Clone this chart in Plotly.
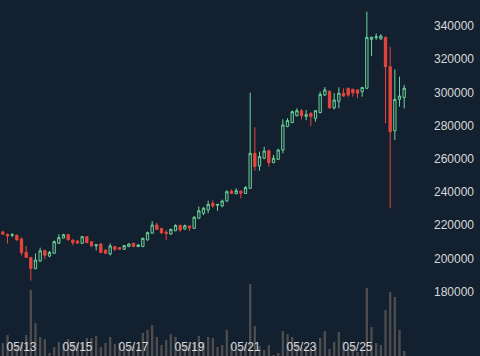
import pandas as pd
import plotly.graph_objects as go

# 4-hour candles, 2019-05-12 08:00 .. 2019-05-26 16:00
times = pd.date_range("2019-05-12 08:00", periods=87, freq="4h")

opens = [216000, 214500, 213900, 214000, 211700, 203600, 200500, 193800, 198400, 204700,
         201400, 203100, 209100, 212300, 214300, 211000, 210500, 209100, 213100, 210000,
         207600, 208700, 205000, 202600, 207100, 206500, 205500, 207100, 209100, 207100,
         207100, 211100, 215200, 220100, 218000, 215800, 214700, 216700, 219900, 217700,
         219500, 218100, 224200, 227200, 229200, 233200, 232000, 231600, 234500, 240600,
         239000, 240500, 239100, 242200, 263300, 255700, 260300, 264900, 257700, 259700,
         265300, 279500, 281800, 286000, 289000, 285600, 287400, 284400, 287800, 298500,
         300700, 290700, 294700, 299500, 302500, 301900, 301500, 300400, 302500, 332000,
         333000, 332200, 333200, 315500, 276900, 295800, 297000]
highs = [216300, 215000, 215200, 214300, 212700, 207500, 201000, 203000, 206500, 205300,
         204500, 210800, 214600, 214800, 214800, 211500, 211000, 213600, 213400, 210400,
         208400, 209000, 205400, 209000, 207500, 206800, 208000, 209100, 209500, 208500,
         212500, 216200, 222400, 221500, 218400, 217100, 218000, 220500, 220300, 220400,
         220000, 225400, 231300, 231000, 234800, 235000, 232700, 235400, 241000, 241500,
         242300, 241000, 243600, 299800, 279000, 264300, 267300, 265500, 262300, 266000,
         283800, 284500, 289000, 290400, 290000, 289400, 288000, 289400, 300500, 303200,
         301200, 299500, 303100, 302500, 302800, 302200, 301800, 303300, 348600, 333600,
         335600, 335000, 333500, 327500, 313900, 309500, 304500]
lows = [214300, 209000, 212800, 210800, 201800, 200300, 186600, 193500, 198000, 199500,
        200700, 202600, 208800, 212000, 210800, 208000, 208800, 208800, 209200, 207000,
        204800, 203200, 202600, 201800, 204400, 205200, 205200, 206900, 206800, 206900,
        206900, 210800, 214900, 217200, 215000, 211100, 214300, 216400, 216000, 217300,
        216500, 217800, 224000, 226000, 227200, 230400, 228700, 230800, 234200, 238800,
        238600, 236200, 238800, 242000, 252800, 252800, 259800, 255200, 257300, 259300,
        263300, 279000, 281500, 285500, 283800, 283300, 279800, 282400, 287400, 297800,
        290300, 289700, 290400, 297400, 297400, 297400, 296500, 297400, 302000, 322000,
        331600, 331800, 281400, 230200, 271300, 291400, 290400]
closes = [214600, 213500, 214300, 211100, 203500, 200600, 194000, 199000, 204600, 201900,
          203600, 210100, 212500, 214300, 211200, 209500, 209200, 213100, 209500, 207500,
          208200, 203500, 203100, 207500, 205500, 205500, 207700, 208700, 207100, 208100,
          212100, 215500, 220100, 217500, 215300, 215000, 217500, 219900, 217100, 219700,
          218300, 224800, 228700, 230200, 232600, 231600, 232500, 234600, 240200, 239200,
          240800, 239300, 242700, 263300, 255300, 261300, 264700, 257700, 260300, 265300,
          280400, 283000, 288400, 289000, 286000, 286600, 285400, 289000, 298800, 301500,
          290700, 295400, 299500, 297800, 298400, 299800, 299500, 303000, 333200, 333200,
          333500, 334000, 315500, 276300, 295800, 297800, 302500]
volumes = [130, 210, 130, 110, 140, 210, 660, 330, 190, 170,
           30, 90, 140, 120, 170, 130, 130, 120, 180, 180,
           200, 90, 130, 190, 120, 130, 100, 90, 100, 90,
           230, 260, 310, 190, 110, 160, 220, 190, 120, 100,
           140, 120, 200, 140, 190, 180, 90, 110, 260, 120,
           100, 80, 120, 720, 300, 100, 60, 110, 10, 30,
           250, 220, 190, 120, 80, 100, 90, 110, 180, 250,
           70, 140, 240, 140, 90, 100, 40, 90, 680, 290,
           130, 110, 460, 640, 590, 260, 50]

price_ticks = [180000, 200000, 220000, 240000, 260000, 280000, 300000, 320000, 340000]
date_ticks = ["2019-05-13", "2019-05-15", "2019-05-17", "2019-05-19",
              "2019-05-21", "2019-05-23", "2019-05-25"]

BG = "#132030"
GREEN = "#6ed49b"
RED = "#e8453c"
TXT = "#d8d8d8"
FONT = "Liberation Sans, Arial, sans-serif"

fig = go.Figure()
fig.add_trace(go.Bar(
    x=times, y=volumes, yaxis="y2",
    marker=dict(color="#4d4d4d", line=dict(width=0)),
    hoverinfo="skip",
))
fig.add_trace(go.Candlestick(
    x=times, open=opens, high=highs, low=lows, close=closes,
    increasing=dict(line=dict(color=GREEN, width=1), fillcolor=BG),
    decreasing=dict(line=dict(color=RED, width=1), fillcolor=RED),
    whiskerwidth=0,
))

fig.update_layout(
    width=480, height=356,
    margin=dict(l=0, r=47, t=0, b=0),
    paper_bgcolor=BG, plot_bgcolor=BG,
    showlegend=False,
    bargap=0.5,
    font=dict(family=FONT, size=12, color=TXT),
    xaxis=dict(
        type="date",
        range=["2019-05-12 05:34", "2019-05-27 16:42"],
        rangeslider=dict(visible=False),
        showgrid=False, zeroline=False, showline=False,
        tickvals=date_ticks, tickformat="%m/%d",
        ticklabelposition="inside", ticks="",
        tickfont=dict(family=FONT, size=12, color=TXT),
        automargin=False,
    ),
    yaxis=dict(
        side="right",
        range=[141208, 355662],
        showgrid=False, zeroline=False, showline=False,
        tickvals=price_ticks, tickformat="d", ticks="",
        tickfont=dict(family=FONT, size=12, color=TXT),
        automargin=False,
    ),
    yaxis2=dict(
        overlaying="y", range=[0, 3560], visible=False,
        showgrid=False, zeroline=False,
    ),
)

fig.write_html(
    "out.html",
    config={"displayModeBar": False},
    post_script="document.body.style.margin='0';document.body.style.background='" + BG + "';",
)
